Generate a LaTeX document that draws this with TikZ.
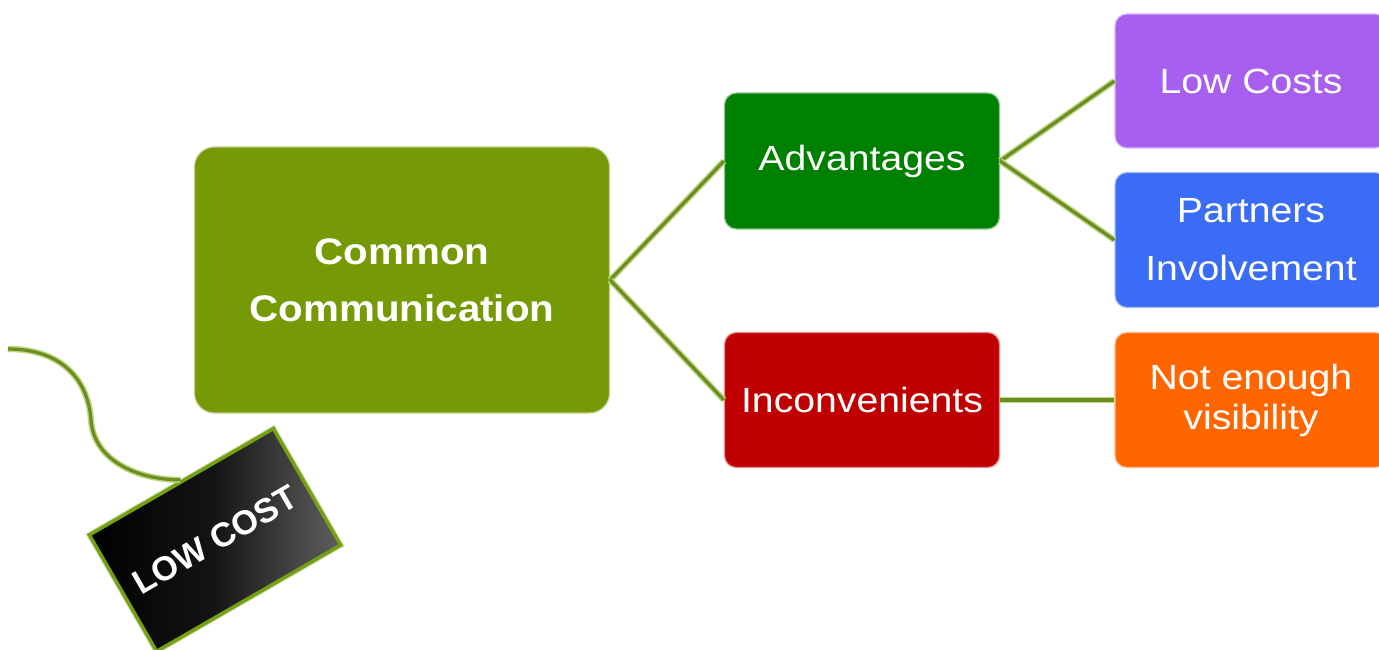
\documentclass[tikz,border=0pt]{standalone}
\usepackage{fontspec}
\newfontfamily\regf[FakeStretch=1.12]{Liberation Sans}
\newfontfamily\boldf[FakeStretch=1.09]{Liberation Sans Bold}
\newfontfamily\tagf{Liberation Sans Bold}
\definecolor{ccgreen}{RGB}{118,154,6}
\definecolor{advgreen}{RGB}{0,128,0}
\definecolor{incred}{RGB}{192,0,0}
\definecolor{lcpurple}{RGB}{168,94,238}
\definecolor{pblue}{RGB}{58,108,245}
\definecolor{norange}{RGB}{255,102,0}
\definecolor{linkdark}{RGB}{107,142,35}
\definecolor{linklight}{RGB}{192,214,130}
\definecolor{tagborder}{RGB}{118,160,20}
\definecolor{taggrey}{RGB}{95,95,95}
\tikzset{
  box/.style={rounded corners=12pt, minimum width=275pt, minimum height=135pt,
    text=white, align=center, inner sep=0pt, line width=1.2pt,
    font=\regf\fontsize{35}{40}\selectfont},
  link/.style={draw=linklight, double=linkdark, line width=1.5pt, double distance=3.2pt},
}
\begin{document}
\begin{tikzpicture}[x=1pt,y=-1pt]
\fill[white] (0,0) rectangle (1379,650);
\useasboundingbox (0,0) rectangle (1379,650);

\node[box, fill=ccgreen, draw=ccgreen!45!white, rounded corners=20pt,
  minimum width=415pt, minimum height=266pt,
  font=\boldf\fontsize{37}{57}\selectfont] (cc) at (402,280) {Common\\Communication};

\node[box, fill=advgreen, draw=advgreen!45!white, minimum height=136pt] (adv) at (862,161) {Advantages};
\node[box, fill=incred, draw=incred!45!white] (inc) at (862,400) {Inconvenients};

\node[box, fill=lcpurple, draw=lcpurple!45!white, minimum width=272pt, minimum height=134pt] (lc) at (1251,81) {Low Costs};
\node[box, fill=pblue, draw=pblue!45!white, minimum width=272pt,
  font=\regf\fontsize{35}{58}\selectfont] (pi) at (1251,240) {Partners\\Involvement};
\node[box, fill=norange, draw=norange!45!white, minimum width=272pt,
  font=\regf\fontsize{35}{40}\selectfont] (ne) at (1251,400) {Not enough\\visibility};

\draw[link] (cc.east) -- (adv.west);
\draw[link] (cc.east) -- (inc.west);
\draw[link] (adv.east) -- (lc.west);
\draw[link] (adv.east) -- (pi.west);
\draw[link] (inc.east) -- (ne.west);

\node[rotate=30, minimum width=213pt, minimum height=135pt, inner sep=0pt,
  left color=black, right color=taggrey, middle color=black!92,
  draw=tagborder, line width=4pt, text=white,
  font=\tagf\fontsize{34}{38}\selectfont] (tag) at (215,540) {LOW COST};
\draw[draw=tagborder!40!white, line width=0.8pt, rotate around={30:(215,540)}]
  (215-108.5,540-69.5) rectangle (215+108.5,540+69.5);

\coordinate (strstart) at (8,349);
\draw[link] (strstart) .. controls (60,349) and (88,378) .. (91,420)
  .. controls (94,462) and (140,480) .. (tag.north);
\end{tikzpicture}
\end{document}
